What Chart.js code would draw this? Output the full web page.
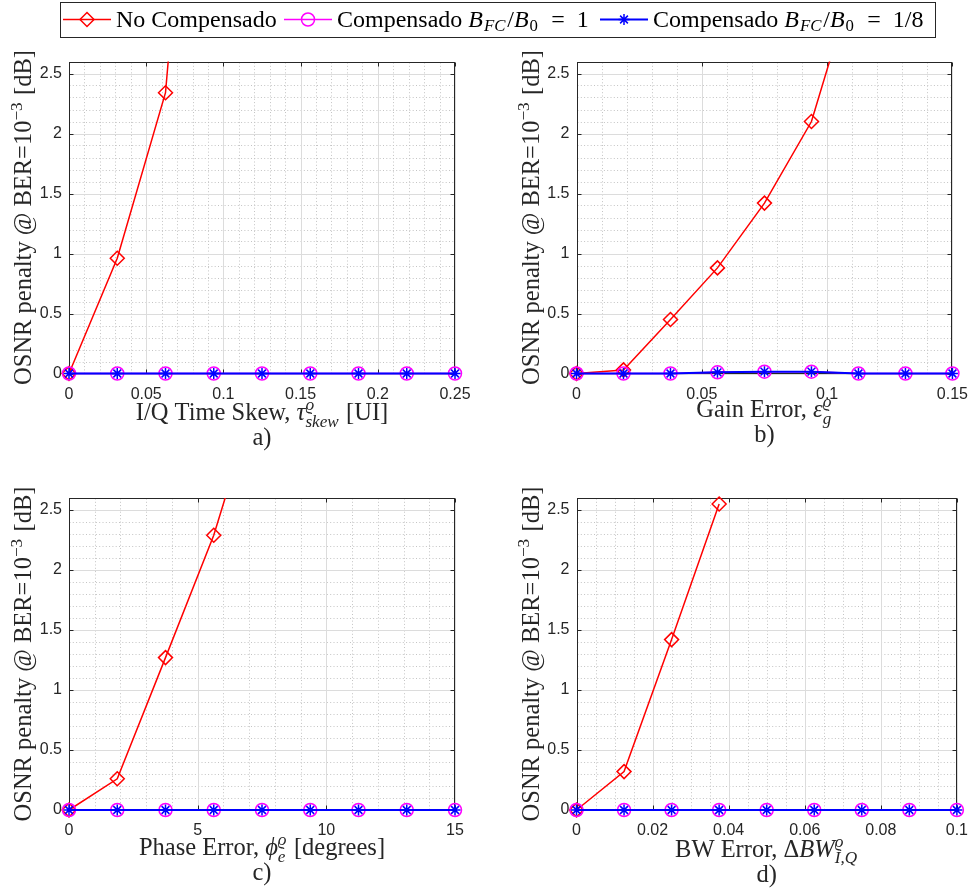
<!DOCTYPE html>
<html><head><meta charset="utf-8">
<script src="https://cdn.jsdelivr.net/npm/chart.js@4.4.1/dist/chart.umd.min.js"></script>
<style>
html,body{margin:0;padding:0;background:#fff;}
#wrap{position:relative;width:979px;height:890px;background:#fff;}
#wrap canvas{position:absolute;left:0;top:0;}
</style></head><body>
<div id="wrap">
<canvas id="ca" width="979" height="890"></canvas>
<canvas id="cb" width="979" height="890"></canvas>
<canvas id="cc" width="979" height="890"></canvas>
<canvas id="cd" width="979" height="890"></canvas>
</div>
<script>
// ---------------- DATA ----------------
const seriesNames = ['No Compensado', 'Compensado B_FC/B_0 = 1', 'Compensado B_FC/B_0 = 1/8'];

// a) I/Q time skew [UI]
const xSkew = [0, 0.03125, 0.0625, 0.09375, 0.125, 0.15625, 0.1875, 0.21875, 0.25];
const skewNoComp = [0, 0.96, 2.34, 7.0];
const skewComp1 = [0, 0, 0, 0, 0, 0, 0, 0, 0];
const skewComp8 = [0, 0, 0, 0, 0, 0, 0, 0, 0];
const xTicksSkew = [0, 0.05, 0.1, 0.15, 0.2, 0.25];

// b) gain error
const xGain = [0, 0.01875, 0.0375, 0.05625, 0.075, 0.09375, 0.1125, 0.13125, 0.15];
const gainNoComp = [0, 0.03, 0.45, 0.88, 1.42, 2.10, 3.4];
const gainComp1 = [0, 0, 0, 0.01, 0.015, 0.015, 0, 0, 0];
const gainComp8 = [0, 0, 0, 0.01, 0.015, 0.015, 0, 0, 0];
const xTicksGain = [0, 0.05, 0.1, 0.15];

// c) phase error [degrees]
const xPhase = [0, 1.875, 3.75, 5.625, 7.5, 9.375, 11.25, 13.125, 15];
const phaseNoComp = [0, 0.26, 1.27, 2.29, 3.6];
const phaseComp1 = [0, 0, 0, 0, 0, 0, 0, 0, 0];
const phaseComp8 = [0, 0, 0, 0, 0, 0, 0, 0, 0];
const xTicksPhase = [0, 5, 10, 15];

// d) BW error
const xBw = [0, 0.0125, 0.025, 0.0375, 0.05, 0.0625, 0.075, 0.0875, 0.1];
const bwNoComp = [0, 0.32, 1.42, 2.55];
const bwComp1 = [0, 0, 0, 0, 0, 0, 0, 0, 0];
const bwComp8 = [0, 0, 0, 0, 0, 0, 0, 0, 0];
const xTicksBw = [0, 0.02, 0.04, 0.06, 0.08, 0.1];

const yTicks = [0, 0.5, 1, 1.5, 2, 2.5];
const yMax = 2.6;

// ---------------- STYLE / HELPERS ----------------
const SERIF = '"Liberation Serif", "DejaVu Serif", serif';
const SANS = '"Liberation Sans", Arial, sans-serif';
const INK = '#262626';
const RED = '#ff0000', MAG = '#ff00ff', BLUE = '#0000ff';

function fontStr(size, it) { return (it ? 'italic ' : '') + size + 'px ' + SERIF; }
function segWidth(ctx, s, size) {
  const pad = (s.pad || 0) * size;
  if (s.t !== undefined) { ctx.font = fontStr(size, s.it); return ctx.measureText(s.t).width + pad; }
  const ss = size * 0.7;
  let w1 = 0, w2 = 0;
  if (s.sup) { ctx.font = fontStr(ss, s.supIt); w1 = ctx.measureText(s.sup).width; }
  if (s.sub) { ctx.font = fontStr(ss, s.subIt); w2 = ctx.measureText(s.sub).width; }
  return Math.max(w1, w2) + 0.05 * size + pad;
}
function measureRich(ctx, segs, size) { let w = 0; for (const s of segs) w += segWidth(ctx, s, size); return w; }
function drawRich(ctx, segs, x, y, size, align) {
  const w = measureRich(ctx, segs, size);
  let cx = align === 'center' ? x - w / 2 : (align === 'right' ? x - w : x);
  ctx.textAlign = 'left'; ctx.textBaseline = 'alphabetic';
  for (const s of segs) {
    if (s.t !== undefined) { ctx.font = fontStr(size, s.it); ctx.fillText(s.t, cx, y); }
    else {
      const ss = size * 0.7;
      if (s.sup) { ctx.font = fontStr(ss, s.supIt); ctx.fillText(s.sup, cx, y - size * (s.sub ? 0.40 : 0.38)); }
      if (s.sub) { ctx.font = fontStr(ss, s.subIt); ctx.fillText(s.sub, cx, y + size * (s.sup ? 0.27 : 0.17)); }
    }
    cx += segWidth(ctx, s, size);
  }
  return w;
}

const yTitle = [{t: 'OSNR penalty @ BER=10'}, {sup: '\u22123'}, {t: ' [dB]'}];
const legendTexts = [
  [{t: seriesNames[0]}],
  [{t: 'Compensado '}, {t: 'B', it: true, pad: 0.04}, {sub: 'FC', subIt: true, pad: 0.03}, {t: '/'}, {t: 'B', it: true, pad: 0.04}, {sub: '0'}, {t: '\u2002=\u20021'}],
  [{t: 'Compensado '}, {t: 'B', it: true, pad: 0.04}, {sub: 'FC', subIt: true, pad: 0.03}, {t: '/'}, {t: 'B', it: true, pad: 0.04}, {sub: '0'}, {t: '\u2002=\u20021/8'}]
];

function mark(ctx, style, x, y, r) {
  ctx.beginPath();
  if (style === 'diamond') { ctx.moveTo(x, y - r); ctx.lineTo(x + r, y); ctx.lineTo(x, y + r); ctx.lineTo(x - r, y); ctx.closePath(); }
  else if (style === 'circle') { ctx.arc(x, y, r, 0, Math.PI * 2); }
  else { const d = r * Math.SQRT1_2; ctx.moveTo(x - r, y); ctx.lineTo(x + r, y); ctx.moveTo(x, y - r); ctx.lineTo(x, y + r);
    ctx.moveTo(x - d, y - d); ctx.lineTo(x + d, y + d); ctx.moveTo(x - d, y + d); ctx.lineTo(x + d, y - d); }
  ctx.stroke();
}

const TITLE_FS = 24.5, LEGEND_FS = 24;

const matlabAxes = {
  id: 'matlabAxes',
  beforeDatasetsDraw(chart, args, o) {
    const {ctx, chartArea: a} = chart;
    const xs = chart.scales.x, ys = chart.scales.y;
    const L = Math.round(a.left) + 0.5, R = Math.round(a.right) - 0.5, T = Math.round(a.top) + 0.5, B = Math.round(a.bottom) - 0.5;
    ctx.save();
    // minor grid (dotted)
    ctx.lineWidth = 1; ctx.strokeStyle = '#c4c4c4'; ctx.setLineDash([1, 2.3]);
    const nx = Math.round(xs.max / o.xMinor);
    for (let i = 1; i < nx; i++) {
      const v = i * o.xMinor;
      if (o.xTicks.some(t => Math.abs(t - v) < 1e-9)) continue;
      const p = Math.round(xs.getPixelForValue(v)) + 0.5;
      ctx.beginPath(); ctx.moveTo(p, T); ctx.lineTo(p, B); ctx.stroke();
    }
    const ny = Math.round(ys.max / 0.1);
    for (let i = 1; i < ny; i++) {
      const v = i * 0.1;
      if (yTicks.some(t => Math.abs(t - v) < 1e-9)) continue;
      const p = Math.round(ys.getPixelForValue(v)) + 0.5;
      ctx.beginPath(); ctx.moveTo(L, p); ctx.lineTo(R, p); ctx.stroke();
    }
    // major grid
    ctx.setLineDash([]); ctx.strokeStyle = '#dcdcdc';
    for (const v of o.xTicks) {
      const p = Math.round(xs.getPixelForValue(v)) + 0.5;
      ctx.beginPath(); ctx.moveTo(p, T); ctx.lineTo(p, B); ctx.stroke();
    }
    for (const v of yTicks) {
      const p = Math.round(ys.getPixelForValue(v)) + 0.5;
      ctx.beginPath(); ctx.moveTo(L, p); ctx.lineTo(R, p); ctx.stroke();
    }
    // box and inward ticks
    ctx.strokeStyle = INK; ctx.lineWidth = 1;
    ctx.strokeRect(L, T, R - L, B - T);
    const tl = 4;
    ctx.beginPath();
    for (const v of o.xTicks) {
      const p = Math.round(xs.getPixelForValue(v)) + 0.5;
      ctx.moveTo(p, B); ctx.lineTo(p, B - tl); ctx.moveTo(p, T); ctx.lineTo(p, T + tl);
    }
    for (const v of yTicks) {
      const p = Math.round(ys.getPixelForValue(v)) + 0.5;
      ctx.moveTo(L, p); ctx.lineTo(L + tl, p); ctx.moveTo(R, p); ctx.lineTo(R - tl, p);
    }
    ctx.stroke();
    ctx.restore();
  },
  afterDraw(chart, args, o) {
    const {ctx, chartArea: a} = chart;
    ctx.save();
    ctx.fillStyle = INK;
    drawRich(ctx, o.xTitle, (a.left + a.right) / 2, a.bottom + o.xTitleDy, TITLE_FS, 'center');
    drawRich(ctx, [{t: o.panel}], (a.left + a.right) / 2, a.bottom + o.panelDy, TITLE_FS, 'center');
    ctx.save();
    ctx.translate(a.left - 38, (a.top + a.bottom) / 2);
    ctx.rotate(-Math.PI / 2);
    drawRich(ctx, yTitle, 0, 0, TITLE_FS, 'center');
    ctx.restore();
    if (o.legend) {
      ctx.strokeStyle = INK; ctx.lineWidth = 1;
      ctx.fillStyle = '#fff';
      ctx.fillRect(60.5, 2.5, 875, 35);
      ctx.strokeRect(60.5, 2.5, 875, 35);
      const cols = [RED, MAG, BLUE], styles = ['diamond', 'circle', 'star'], radii = [7, 6.5, 5.5], lws = [1.5, 1.5, 2];
      const startX = [63, 284, 600];
      const cy = 19.5;
      for (let i = 0; i < 3; i++) {
        const x0 = startX[i];
        ctx.strokeStyle = cols[i]; ctx.lineWidth = lws[i];
        ctx.beginPath(); ctx.moveTo(x0, cy); ctx.lineTo(x0 + 48, cy); ctx.stroke();
        ctx.lineWidth = 1.5;
        mark(ctx, styles[i], x0 + 24, cy, radii[i]);
        ctx.fillStyle = '#000';
        drawRich(ctx, legendTexts[i], x0 + 53, 27, LEGEND_FS, 'left');
      }
    }
    ctx.restore();
  }
};

const W = 979, H = 890, YW = 50, XH = 40;
function pts(xs, ys) { return ys.map((y, i) => ({x: xs[i], y: y})); }

function makeChart(id, c) {
  const datasets = [
    {label: seriesNames[0], data: pts(c.x, c.red), borderColor: RED, borderWidth: 1.5, pointStyle: 'rectRot', pointRadius: 7,
     pointBorderWidth: 1.5, pointBorderColor: RED, pointBackgroundColor: 'rgba(0,0,0,0)', tension: 0, order: 3,
     clip: {left: false, right: false, top: c.clipTop, bottom: false}},
    {label: seriesNames[1], data: pts(c.x, c.mag), borderColor: MAG, borderWidth: 1.5, pointStyle: 'circle', pointRadius: 6.5,
     pointBorderWidth: 1.5, pointBorderColor: MAG, pointBackgroundColor: 'rgba(0,0,0,0)', tension: 0, order: 2, clip: false},
    {label: seriesNames[2], data: pts(c.x, c.blue), borderColor: BLUE, borderWidth: 2, pointStyle: 'star', pointRadius: 5.5,
     pointBorderWidth: 1.5, pointBorderColor: BLUE, pointBackgroundColor: 'rgba(0,0,0,0)', tension: 0, order: 1, clip: false}
  ];
  return new Chart(document.getElementById(id), {
    type: 'line',
    data: {datasets},
    options: {
      responsive: false, animation: false, events: [],
      layout: {padding: {left: c.left - YW, right: W - c.right, top: c.top, bottom: H - c.bottom - XH}},
      plugins: {legend: {display: false}, tooltip: {enabled: false},
        matlabAxes: {xTicks: c.xTicks, xMinor: c.xMinor, xTitle: c.xTitle, panel: c.panel,
          xTitleDy: c.xTitleDy, panelDy: c.panelDy, legend: !!c.legend}},
      scales: {
        x: {type: 'linear', min: 0, max: c.xTicks[c.xTicks.length - 1],
          grid: {display: false, drawTicks: false}, border: {display: false},
          afterBuildTicks: s => { s.ticks = c.xTicks.map(v => ({value: v})); },
          afterFit: s => { s.height = XH; },
          ticks: {maxRotation: 0, minRotation: 0, autoSkip: false, padding: 11, color: INK,
            font: {family: SANS, size: 16}, callback: v => String(v)}},
        y: {type: 'linear', min: 0, max: yMax,
          grid: {display: false, drawTicks: false}, border: {display: false},
          afterBuildTicks: s => { s.ticks = yTicks.map(v => ({value: v})); },
          afterFit: s => { s.width = YW; },
          ticks: {autoSkip: false, padding: 7, color: INK, font: {family: SANS, size: 16}, callback: v => String(v)}}
      }
    },
    plugins: [matlabAxes]
  });
}

const rhoSup = '\u03F1';
makeChart('ca', {x: xSkew, red: skewNoComp, mag: skewComp1, blue: skewComp8, xTicks: xTicksSkew, xMinor: 0.01,
  left: 69, right: 455, top: 61.5, bottom: 373.5, clipTop: 0, legend: true, panel: 'a)', xTitleDy: 46.5, panelDy: 71.5,
  xTitle: [{t: 'I/Q Time Skew, '}, {t: '\u03C4', it: true}, {sup: rhoSup, supIt: true, sub: 'skew', subIt: true}, {t: ' [UI]'}]});
makeChart('cb', {x: xGain, red: gainNoComp, mag: gainComp1, blue: gainComp8, xTicks: xTicksGain, xMinor: 0.01,
  left: 576.5, right: 962.5, top: 61.5, bottom: 373.5, clipTop: 0, panel: 'b)', xTitleDy: 43.5, panelDy: 68.5,
  xTitle: [{t: 'Gain Error, '}, {t: '\u03B5', it: true}, {sup: rhoSup, supIt: true, sub: 'g', subIt: true}]});
makeChart('cc', {x: xPhase, red: phaseNoComp, mag: phaseComp1, blue: phaseComp8, xTicks: xTicksPhase, xMinor: 1,
  left: 69, right: 455, top: 498, bottom: 810, clipTop: 0, panel: 'c)', xTitleDy: 45, panelDy: 70,
  xTitle: [{t: 'Phase Error, '}, {t: '\u03D5', it: true}, {sup: rhoSup, supIt: true, sub: 'e', subIt: true}, {t: ' [degrees]'}]});
makeChart('cd', {x: xBw, red: bwNoComp, mag: bwComp1, blue: bwComp8, xTicks: xTicksBw, xMinor: 0.005,
  left: 576.5, right: 962.5, top: 498, bottom: 810, clipTop: false, panel: 'd)', xTitleDy: 46.5, panelDy: 71.5,
  xTitle: [{t: 'BW Error, \u0394'}, {t: 'BW', it: true}, {sup: rhoSup, supIt: true, sub: 'I,Q', subIt: true}]});
</script>
</body></html>
